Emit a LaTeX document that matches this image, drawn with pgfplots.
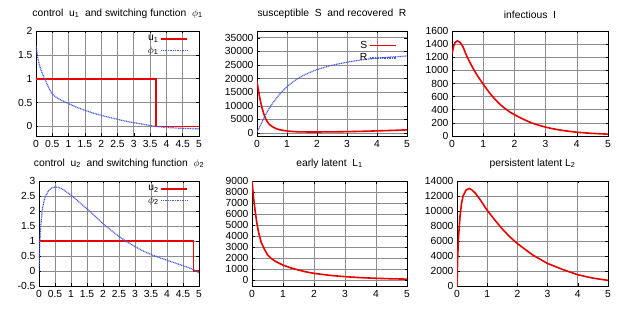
\documentclass[border=0pt]{standalone}
\usepackage{pgfplots}
\pgfplotsset{compat=1.18}
\usepackage{fontspec}
\setmainfont{Liberation Sans}
\definecolor{myred}{RGB}{235,0,0}
\definecolor{myblue}{RGB}{70,90,230}
\newcommand{\fs}{\fontsize{10.3}{11}\selectfont}
\pgfplotsset{
  panel/.style={
    scale only axis, anchor=south west,
    xmin=0, xmax=5,
    xmajorgrids=true, ymajorgrids=true,
    grid style={black!45, line width=0.6pt},
    major grid style={black!45, line width=0.6pt},
    axis line style={line width=0.8pt},
    tick style={black, line width=0.5pt},
    major tick length=2.5pt,
    /pgf/number format/assume math mode=true,
    /pgf/number format/1000 sep={},
    scaled ticks=false,
    tick label style={font=\fs},
    xticklabel style={yshift=-1pt},
    title style={font=\fs, yshift=3pt},
  },
  mylegend/.style={
    legend style={font=\fs, draw=none, fill=none, at={(0.94,0.99)}, anchor=north east, inner sep=1pt},
    legend plot pos=right, legend cell align=right,
    legend image code/.code={\draw[##1] (0pt,0pt) -- (26pt,0pt);},
  },
}
\begin{document}
\begin{tikzpicture}
\useasboundingbox (0,0) rectangle (638pt,310pt);
% panel 1
\begin{axis}[panel, mylegend, at={(36pt,174pt)}, width=163pt, height=105pt,
  ymin=-0.2, ymax=2, xtick={0,0.5,...,5}, ytick={0,0.5,...,2},
  title={control\ \ u\textsubscript{1}\ \ and switching function\ \ $\phi$\textsubscript{1}}]
\addplot[draw=myred, line width=1.6pt] coordinates {(0,1) (3.68,1) (3.68,0) (5,0)};
\addlegendentry{u\textsubscript{1}}
\addplot[draw=myblue, line width=1.2pt, dash pattern=on 1pt off 0.7pt, smooth] coordinates {(0,1.70) (0.05,1.45) (0.1,1.30) (0.15,1.19) (0.2,1.10) (0.3,0.95) (0.4,0.80) (0.5,0.68) (0.6,0.62) (0.75,0.56) (1,0.48) (1.25,0.40) (1.5,0.34) (1.75,0.28) (2,0.235) (2.25,0.19) (2.5,0.15) (2.75,0.11) (3,0.08) (3.25,0.05) (3.5,0.02) (3.7,0.0) (4,-0.02) (4.5,-0.04) (5,-0.05)};
\addlegendentry{$\phi$\textsubscript{1}}
\end{axis}
% panel 2
\begin{axis}[panel, mylegend, at={(257pt,174pt)}, width=150pt, height=105pt,
  ymin=-1100, ymax=37500, xtick={0,1,...,5}, ytick={0,5000,...,35000},
  legend style={at={(0.94,0.935)}},
  title={susceptible\ \ S\ \ and recovered\ \ R}]
\addlegendimage{draw=myred, line width=1.6pt}
\addlegendentry{S}
\addplot[draw=myred, line width=1.6pt, smooth, forget plot] coordinates {(0,19000) (0.05,15500) (0.1,12500) (0.15,10000) (0.2,8000) (0.25,6300) (0.3,5000) (0.4,3300) (0.5,2400) (0.6,1800) (0.75,1200) (1,750) (1.25,500) (1.5,400) (2,380) (2.5,420) (3,500) (3.5,620) (4,780) (4.5,950) (5,1150)};
\addplot[draw=myblue, line width=1.2pt, dash pattern=on 1pt off 0.7pt, smooth] coordinates {(0,500) (0.1,2500) (0.2,4800) (0.3,7000) (0.4,8900) (0.5,10600) (0.6,12100) (0.75,14200) (1,17000) (1.25,19200) (1.5,20900) (1.75,22200) (2,23300) (2.5,24900) (3,26000) (3.5,26900) (4,27500) (4.5,27950) (5,28300)};
\addlegendentry{R}
\end{axis}
% panel 3
\begin{axis}[panel, at={(452pt,174pt)}, width=156pt, height=105pt,
  ymin=0, ymax=1600, xtick={0,1,...,5}, ytick={0,200,...,1600},
  title={infectious\ \ I}]
\addplot[draw=myred, line width=1.6pt, smooth] coordinates {(0,1250) (0.05,1360) (0.1,1425) (0.17,1450) (0.25,1430) (0.35,1360) (0.5,1190) (0.75,970) (1,790) (1.25,630) (1.5,500) (1.75,400) (2,325) (2.5,210) (3,135) (3.5,88) (4,58) (4.5,40) (5,28)};
\end{axis}
% panel 4
\begin{axis}[panel, mylegend, at={(39pt,24pt)}, width=160pt, height=105pt,
  ymin=-0.5, ymax=3, xtick={0,0.5,...,5}, ytick={-0.5,0,...,3},
  title={control\ \ u\textsubscript{2}\ \ and switching function\ \ $\phi$\textsubscript{2}}]
\addplot[draw=myred, line width=1.6pt] coordinates {(0,1) (4.83,1) (4.83,0) (5,0)};
\addlegendentry{u\textsubscript{2}}
\addplot[draw=myblue, line width=1.2pt, dash pattern=on 1pt off 0.7pt] coordinates {(0,0) (0.02,0.8) (0.05,1.45) (0.1,2.0) (0.15,2.3) (0.2,2.48) (0.3,2.68) (0.4,2.77) (0.5,2.80) (0.6,2.79) (0.75,2.72) (1,2.53) (1.25,2.30) (1.5,2.07) (1.75,1.83) (2,1.58) (2.25,1.36) (2.5,1.15) (2.75,0.97) (3,0.81) (3.25,0.67) (3.5,0.55) (3.75,0.45) (4,0.36) (4.25,0.27) (4.5,0.18) (4.75,0.08) (4.85,0.03) (5,-0.06)};
\addlegendentry{$\phi$\textsubscript{2}}
\end{axis}
% panel 5
\begin{axis}[panel, at={(252pt,24pt)}, width=155pt, height=105pt,
  ymin=-550, ymax=9000, xtick={0,1,...,5}, ytick={0,1000,...,9000},
  title={early latent\ \ L\textsubscript{1}}]
\addplot[draw=myred, line width=1.6pt] coordinates {(0,9000) (0.05,7500) (0.1,6300) (0.15,5300) (0.2,4500) (0.25,3900) (0.3,3400) (0.4,2800) (0.5,2300) (0.6,2000) (0.75,1700) (1,1350) (1.25,1100) (1.5,900) (1.75,730) (2,600) (2.5,420) (3,300) (3.5,210) (4,150) (4.5,105) (5,75)};
\end{axis}
% panel 6
\begin{axis}[panel, at={(457pt,24pt)}, width=151pt, height=105pt,
  ymin=0, ymax=14000, xtick={0,1,...,5}, ytick={0,2000,...,14000},
  title={persistent latent L\textsubscript{2}}]
\addplot[draw=myred, line width=1.6pt] coordinates {(0,0) (0.02,3500) (0.05,6500) (0.1,9300) (0.15,11000) (0.2,12000) (0.3,12800) (0.4,13000) (0.5,12800) (0.6,12400) (0.75,11600) (1,10100) (1.25,8800) (1.5,7600) (1.75,6550) (2,5650) (2.5,4150) (3,3000) (3.5,2200) (4,1500) (4.5,1050) (5,750)};
\end{axis}
\end{tikzpicture}
\end{document}
